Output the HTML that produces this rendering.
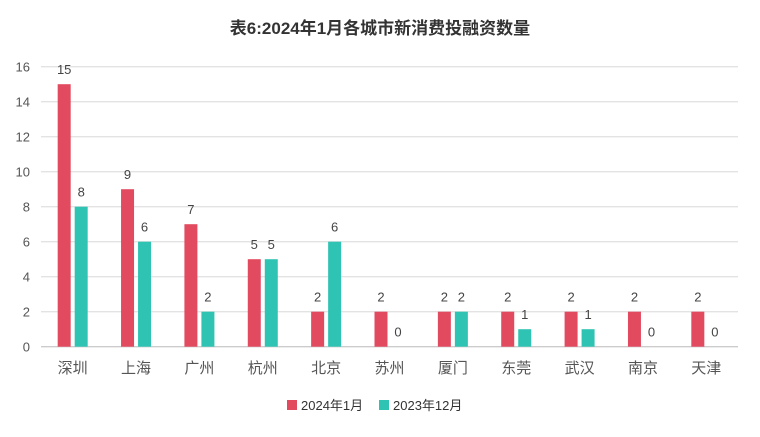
<!DOCTYPE html>
<html><head><meta charset="utf-8"><style>
body{margin:0;background:#fff;font-family:"Liberation Sans","Noto Sans CJK SC",sans-serif}
svg text{font-family:"Liberation Sans","Noto Sans CJK SC",sans-serif}
</style></head><body>
<svg id="chart" width="760" height="432" xmlns="http://www.w3.org/2000/svg">
<text x="380" y="34" text-anchor="middle" font-size="17" font-weight="bold" fill="#333">表6:2024年1月各城市新消费投融资数量</text>
<g id="grid"></g><g id="bars"></g><g id="labels"></g>
<g>
<rect x="287" y="400" width="10" height="10" fill="#e24a5f"/>
<text x="301" y="410" font-size="13" fill="#333">2024年1月</text>
<rect x="379" y="400" width="10" height="10" fill="#2fc3b3"/>
<text x="393" y="410" font-size="13" fill="#333">2023年12月</text>
</g>
</svg>
<script>
const categories=["深圳","上海","广州","杭州","北京","苏州","厦门","东莞","武汉","南京","天津"];
const seriesJan2024=[15,9,7,5,2,2,2,2,2,2,2];
const seriesDec2023=[8,6,2,5,6,0,2,1,1,0,0];
const yTicks=[0,2,4,6,8,10,12,14,16];
const NS="http://www.w3.org/2000/svg";
const L=41,R=738,T=66.7,B=346.7,maxV=16;
const y=v=>B-(B-T)*v/maxV;
const step=(R-L)/categories.length;
const cx=i=>L+step*(i+0.5);
function mk(tag,attrs,parent){const e=document.createElementNS(NS,tag);for(const k in attrs)e.setAttribute(k,attrs[k]);parent.appendChild(e);return e;}
const grid=document.getElementById('grid'),bars=document.getElementById('bars'),labels=document.getElementById('labels');
yTicks.forEach(t=>{
 const l=mk('line',{x1:L,x2:R,y1:y(t),y2:y(t),stroke:t===0?'#ccc':'#e3e3e3','stroke-width':1.3},grid);
 
 
 const tx=mk('text',{x:30,y:y(t)+5,'text-anchor':'end','font-size':13,fill:'#555'},grid);
 tx.textContent=t;
 
 
});
const bw=13;
categories.forEach((c,i)=>{
 [[seriesJan2024[i],'#e24a5f',cx(i)-15,'bar-2024-01'],[seriesDec2023[i],'#2fc3b3',cx(i)+2,'bar-2023-12']].forEach(([v,col,x,nm])=>{
  const r=mk('rect',{x:x,y:y(v),width:bw,height:B-y(v),fill:col},bars);
  
  
  const t=mk('text',{x:x+bw/2,y:y(v)-10,'text-anchor':'middle','font-size':13,fill:'#444'},labels);
  t.textContent=v;
  
  
 });
 const t=mk('text',{x:cx(i),y:373,'text-anchor':'middle','font-size':15,fill:'#555'},labels);
 t.textContent=c;
 
 
});
</script>
</body></html>
